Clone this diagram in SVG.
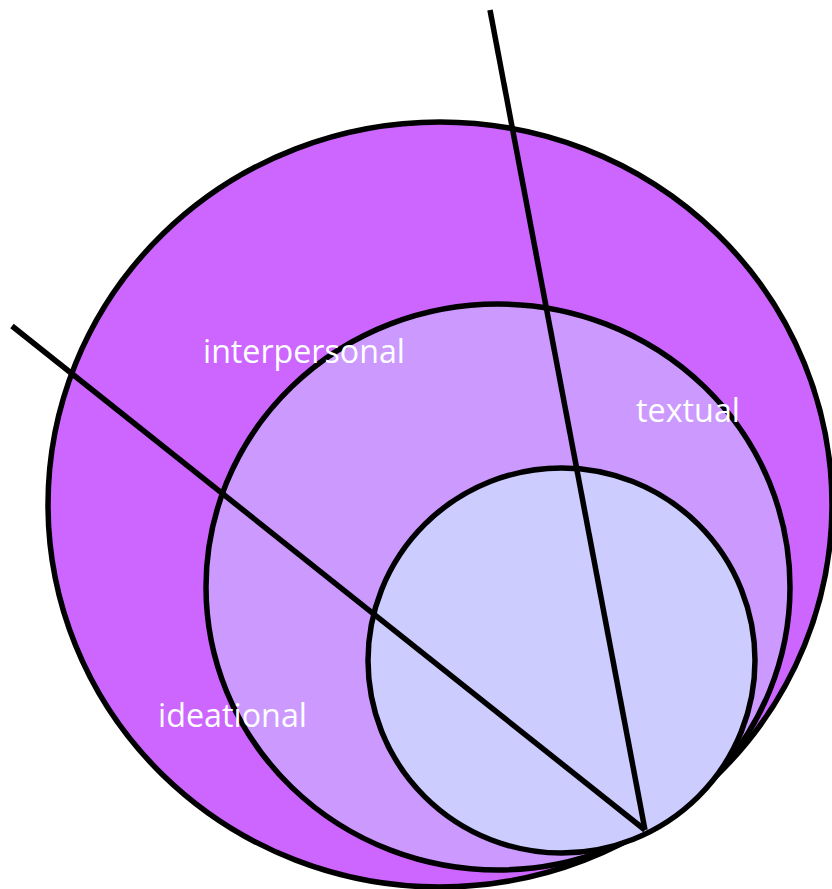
<svg xmlns="http://www.w3.org/2000/svg" width="832" height="889" viewBox="0 0 832 889">
<style>
.c{stroke:#000;stroke-width:5.5}
.l{stroke:#000;stroke-width:5.5;fill:none}
.t{fill:#fff;font-family:"Open Sans","Liberation Sans",sans-serif;font-size:33px}
</style>
<rect width="832" height="889" fill="#fff"/>
<g id="outer"><ellipse class="c" cx="440" cy="504.5" rx="392" ry="382.5" fill="#CC66FF"/></g>
<g id="middle"><ellipse class="c" cx="498" cy="587" rx="292" ry="283" fill="#CC99FF"/></g>
<g id="inner"><ellipse class="c" cx="561.5" cy="660.5" rx="193.5" ry="192.5" fill="#CCCCFF"/></g>
<g id="connectors">
<line class="l" x1="490" y1="10" x2="645" y2="830"/>
<line class="l" x1="12" y1="326" x2="645" y2="830"/>
</g>
<g id="label-interpersonal"><text class="t" x="203" y="363" textLength="202" lengthAdjust="spacingAndGlyphs">interpersonal</text></g>
<g id="label-textual"><text class="t" x="636" y="422" textLength="104" lengthAdjust="spacingAndGlyphs">textual</text></g>
<g id="label-ideational"><text class="t" x="158" y="727" textLength="149" lengthAdjust="spacingAndGlyphs">ideational</text></g>
</svg>
